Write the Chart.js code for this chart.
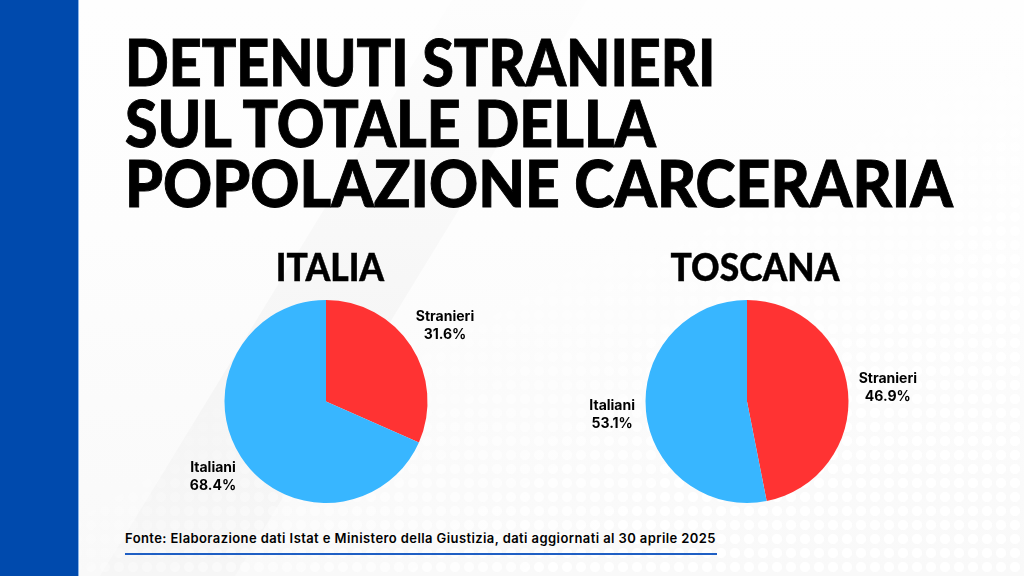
<!DOCTYPE html>
<html lang="it">
<head>
<meta charset="utf-8">
<title>Detenuti stranieri</title>
<script src="https://cdn.jsdelivr.net/npm/chart.js@4"></script>
<style>
  html, body { margin: 0; padding: 0; }
  body { width: 1024px; height: 576px; overflow: hidden; position: relative; background: #fafafa; font-family: "Lato", sans-serif; color: #000; }
  .bg { position: absolute; left: 0; top: 0; width: 1024px; height: 576px; }
  .fade { background: linear-gradient(180deg, #fefefe 0%, #fdfdfd 40%, #f9f9f9 100%); }
  .band { background: linear-gradient(180deg, #fdfdfd 0%, #f5f5f5 65%, #f6f6f6 100%); clip-path: polygon(452px 0, 587px 0, 235px 576px, 100px 576px); }
  .dots { background-image: radial-gradient(circle, #fff 4.6px, transparent 5.6px); background-size: 14px 14px; -webkit-mask-image: linear-gradient(150deg, transparent 42%, #000 80%); mask-image: linear-gradient(150deg, transparent 42%, #000 80%); }
  .side { position: absolute; left: 0; top: 0; width: 78px; height: 576px; background: #004aad; border-right: 1px solid #8ab4e8; }
  h1 { position: absolute; left: 125px; top: 32px; margin: 0; font-size: 64px; line-height: 60.7px; font-weight: 900; white-space: nowrap; -webkit-text-stroke: 0.9px #000; }
  h1 span { display: block; transform-origin: 0 50%; }
  h2 { position: absolute; margin: 0; top: 247px; font-size: 37px; line-height: 40px; font-weight: 900; width: 300px; text-align: center; transform: scaleX(.955); -webkit-text-stroke: 0.4px #000; }
  canvas { position: absolute; }
  .fonte { position: absolute; left: 125px; top: 530px; font-family: "Inter", sans-serif; font-size: 13px; line-height: 16px; font-weight: 600; letter-spacing: 0.41px; white-space: nowrap; }
  .rule { position: absolute; left: 125px; top: 553px; width: 592px; height: 2px; background: #1f5fc4; }
</style>
</head>
<body>
<div class="bg fade"></div>
<div class="bg band"></div>
<div class="bg dots"></div>
<div class="side"></div>
<h1><span style="transform:scaleX(.897)">DETENUTI STRANIERI</span><span style="transform:scaleX(.92)">SUL TOTALE DELLA</span><span style="transform:scaleX(.948)">POPOLAZIONE CARCERARIA</span></h1>
<h2 style="left:180px">ITALIA</h2>
<h2 style="left:605px">TOSCANA</h2>
<canvas id="pieItalia" style="left:126px;top:281px"></canvas>
<canvas id="pieToscana" style="left:547px;top:281px"></canvas>
<div class="fonte">Fonte: Elaborazione dati Istat e Ministero della Giustizia, dati aggiornati al 30 aprile 2025</div>
<div class="rule"></div>
<script>
const categories = ["Stranieri", "Italiani"];
const italiaValues = [31.6, 68.4];
const toscanaValues = [46.9, 53.1];
const sliceColors = ["#ff3333", "#38b6ff"];

/* Labels outside each slice, name above percentage */
const sliceLabels = {
  id: "sliceLabels",
  afterDatasetsDraw(chart) {
    const ctx = chart.ctx;
    const values = chart.data.datasets[0].data;
    ctx.save();
    ctx.fillStyle = "#000";
    ctx.textAlign = "center";
    ctx.textBaseline = "middle";
    ctx.font = "700 14px Inter";
    chart.getDatasetMeta(0).data.forEach((arc, i) => {
      const mid = (arc.startAngle + arc.endAngle) / 2;
      const x = arc.x + Math.cos(mid) * (arc.outerRadius + 37) + 3;
      const y = arc.y + Math.sin(mid) * (arc.outerRadius + 37);
      ctx.fillText(chart.data.labels[i], x, y - 9);
      ctx.fillText(values[i].toFixed(1) + "%", x, y + 8.5);
    });
    ctx.restore();
  }
};

function makePie(id, values) {
  const el = document.getElementById(id);
  el.width = 400;
  el.height = 240;
  return new Chart(el, {
    type: "pie",
    data: {
      labels: categories,
      datasets: [{ data: values, backgroundColor: sliceColors, borderWidth: 0 }]
    },
    options: {
      responsive: false,
      animation: false,
      layout: { padding: { top: 19, bottom: 18 } },
      plugins: { legend: { display: false }, tooltip: { enabled: false } }
    },
    plugins: [sliceLabels]
  });
}

makePie("pieItalia", italiaValues);
makePie("pieToscana", toscanaValues);
</script>
</body>
</html>
